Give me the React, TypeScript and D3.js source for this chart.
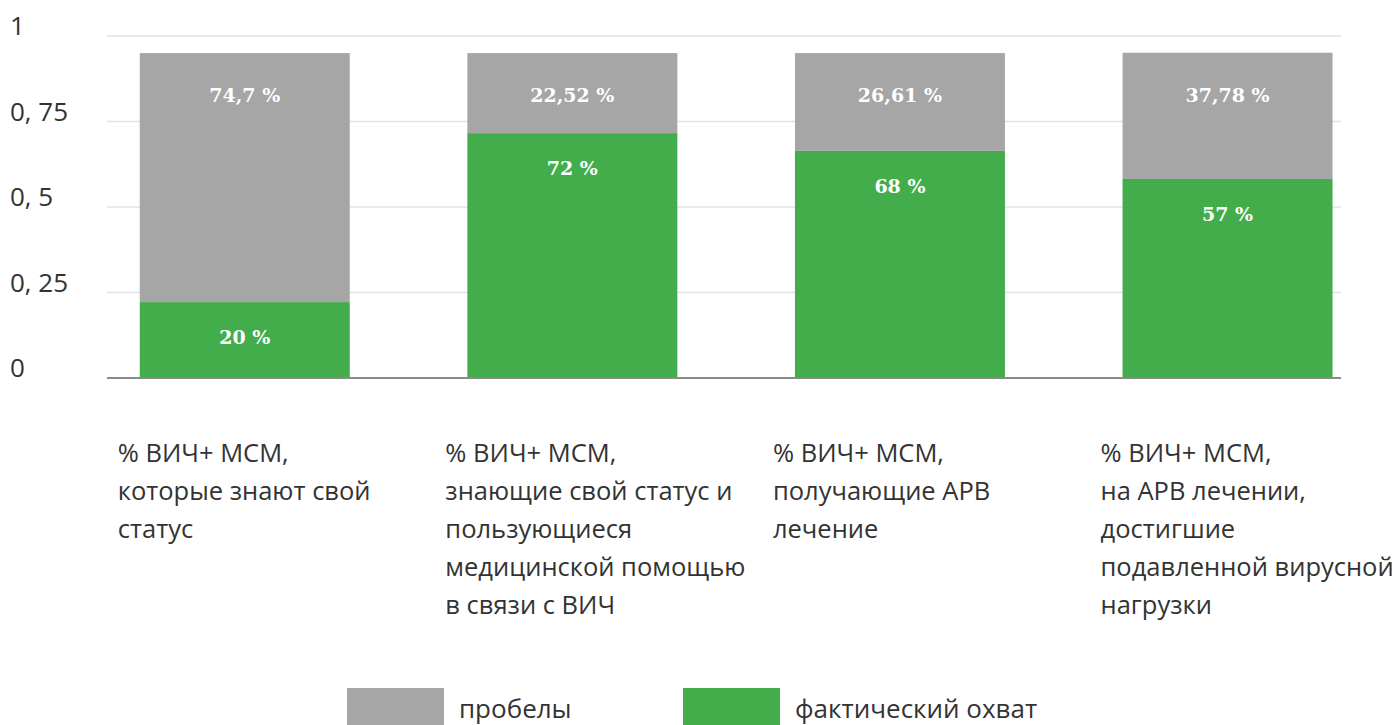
import React from "react";
import * as d3 from "d3";

const categories = ["c1", "c2", "c3", "c4"];
const categoryLines = [
  ["% ВИЧ+ МСМ,", "которые знают свой", "статус"],
  ["% ВИЧ+ МСМ,", "знающие свой статус и", "пользующиеся", "медицинской помощью", "в связи с ВИЧ"],
  ["% ВИЧ+ МСМ,", "получающие АРВ", "лечение"],
  ["% ВИЧ+ МСМ,", "на АРВ лечении,", "достигшие", "подавленной вирусной", "нагрузки"],
];
const coverageValues = [0.222, 0.716, 0.664, 0.582];
const gapValues = [0.728, 0.234, 0.286, 0.369];
const coverageLabels = ["20 %", "72 %", "68 %", "57 %"];
const gapLabels = ["74,7 %", "22,52 %", "26,61 %", "37,78 %"];
const yTicks = [0, 0.25, 0.5, 0.75, 1];
const yTickLabels = ["0", "0, 25", "0, 5", "0, 75", "1"];
const legendItems = ["пробелы", "фактический охват"];

const GRAY = "#a6a6a6";
const GREEN = "#42ad4a";
const SANS = "'Open Sans', 'Noto Sans', sans-serif";
const SERIF = "'DejaVu Serif', serif";

export default function App() {
  const W = 1395;
  const H = 725;
  const y = d3.scaleLinear().domain([0, 1]).range([378, 36]);
  const x = d3
    .scaleBand<string>()
    .domain(categories)
    .range([107, 1365.3])
    .paddingInner(0.359)
    .paddingOuter(0.1);
  const gridX0 = 107;
  const gridX1 = 1341;
  const labelOffset = -22;

  const stack = d3
    .stack<number>()
    .keys(["coverage", "gap"])
    .value((i, key) => (key === "coverage" ? coverageValues[i] : gapValues[i]));
  const series = stack(d3.range(categories.length));
  const colors = [GREEN, GRAY];

  return (
    <svg
      width={W}
      height={H}
      style={{ position: "absolute", left: 0, top: 0, background: "#fff" }}
    >
      {yTicks.map((t, i) =>
        t === 0 ? null : (
          <line
            key={"g" + i}
            x1={gridX0}
            x2={gridX1}
            y1={y(t)}
            y2={y(t)}
            stroke="#e3e3e3"
            strokeWidth={1.5}
          />
        )
      )}
      {yTicks.map((t, i) => (
        <text
          key={"t" + i}
          x={10}
          y={y(t) - 1}
          fontFamily={SANS}
          fontSize={26}
          fill="#333"
        >
          {yTickLabels[i]}
        </text>
      ))}
      {series.map((s, si) =>
        s.map((d, i) => (
          <rect
            key={si + "-" + i}
            x={x(categories[i])}
            width={x.bandwidth()}
            y={y(d[1])}
            height={y(d[0]) - y(d[1]) + (si === 0 ? 1 : 0)}
            fill={colors[si]}
          />
        ))
      )}
      <line
        x1={gridX0}
        x2={gridX1}
        y1={y(0)}
        y2={y(0)}
        stroke="#8a8a8a"
        strokeWidth={2}
      />
      {categories.map((c, i) => (
        <g key={"lab" + i}>
          <text
            x={(x(c) as number) + x.bandwidth() / 2}
            y={y(coverageValues[i] + gapValues[i]) + 49}
            textAnchor="middle"
            fontFamily={SERIF}
            fontWeight="bold"
            fontSize={19}
            fill="#fff"
          >
            {gapLabels[i]}
          </text>
          <text
            x={(x(c) as number) + x.bandwidth() / 2}
            y={y(coverageValues[i]) + 42}
            textAnchor="middle"
            fontFamily={SERIF}
            fontWeight="bold"
            fontSize={19}
            fill="#fff"
          >
            {coverageLabels[i]}
          </text>
        </g>
      ))}
      {categories.map((c, i) => (
        <text
          key={"cat" + i}
          x={(x(c) as number) + labelOffset}
          y={462}
          fontFamily={SANS}
          fontSize={25.5}
          fill="#333"
        >
          {categoryLines[i].map((ln, j) => (
            <tspan key={j} x={(x(c) as number) + labelOffset} dy={j === 0 ? 0 : 38}>
              {ln}
            </tspan>
          ))}
        </text>
      ))}
      {legendItems.map((l, i) => (
        <g key={"leg" + i} transform={`translate(${347 + i * 336},688)`}>
          <rect width={97} height={40} fill={i === 0 ? GRAY : GREEN} />
          <text x={112} y={30} fontFamily={SANS} fontSize={26} fill="#333">
            {l}
          </text>
        </g>
      ))}
    </svg>
  );
}
